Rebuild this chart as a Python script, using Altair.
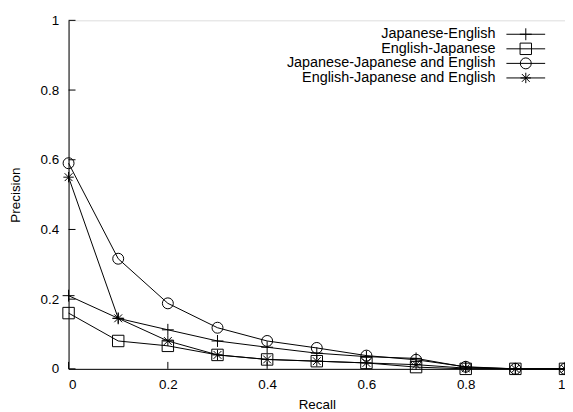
import altair as alt
import pandas as pd

recall = [0.0, 0.1, 0.2, 0.3, 0.4, 0.5, 0.6, 0.7, 0.8, 0.9, 1.0]
series_names = [
    "Japanese-English",
    "English-Japanese",
    "Japanese-Japanese and English",
    "English-Japanese and English",
]
ja_en = [0.21, 0.145, 0.112, 0.08, 0.062, 0.045, 0.035, 0.03, 0.005, 0.0, 0.0]
en_ja = [0.16, 0.08, 0.066, 0.04, 0.027, 0.022, 0.017, 0.005, 0.0, 0.0, 0.0]
jaja_en = [0.59, 0.316, 0.188, 0.118, 0.08, 0.06, 0.038, 0.026, 0.006, 0.0, 0.0]
enja_en = [0.55, 0.145, 0.08, 0.04, 0.027, 0.022, 0.017, 0.012, 0.002, 0.0, 0.0]
tick_values = [0, 0.2, 0.4, 0.6, 0.8, 1]

all_series = [ja_en, en_ja, jaja_en, enja_en]
rows = []
for name, vals in zip(series_names, all_series):
    for r, p in zip(recall, vals):
        rows.append({"series": name, "recall": r, "precision": p})
df = pd.DataFrame(rows)

PLUS = "M-1,0L1,0M0,-1L0,1"
STAR = "M-1,0L1,0M0,-1L0,1M-0.75,-0.75L0.75,0.75M-0.75,0.75L0.75,-0.75"
shapes = [PLUS, "square", "circle", STAR]
sizes = [144, 110, 130, 130]

FONT = "Liberation Sans"
xs = alt.Scale(domain=[0, 1], nice=False)
ys = alt.Scale(domain=[0, 1], nice=False)

x_enc = alt.X("recall:Q", scale=xs, axis=alt.Axis(
    values=tick_values, format="~g", title="Recall", tickSize=0,
    labelPadding=9, titlePadding=6, domainColor="black", grid=False,
    labelFont=FONT, labelFontSize=13.5, labelColor="black",
    titleFont=FONT, titleFontSize=13.5, titleFontWeight="normal", titleColor="black"))
y_enc = alt.Y("precision:Q", scale=ys, axis=alt.Axis(
    values=tick_values, format="~g", title="Precision", tickSize=0,
    labelPadding=10, titlePadding=18, domainColor="black", grid=False,
    labelFont=FONT, labelFontSize=13.5, labelColor="black",
    titleFont=FONT, titleFontSize=13.5, titleFontWeight="normal", titleColor="black"))

shape_scale = alt.Scale(domain=series_names, range=shapes)
size_scale = alt.Scale(domain=series_names, range=sizes)

base = alt.Chart(df)
lines = base.mark_line(color="black", strokeWidth=1).encode(
    x=x_enc, y=y_enc, detail="series:N")
points = base.mark_point(color="black", strokeWidth=1, filled=False, opacity=1).encode(
    x="recall:Q", y="precision:Q",
    shape=alt.Shape("series:N", scale=shape_scale, legend=None),
    size=alt.Size("series:N", scale=size_scale, legend=None))

tick_df = pd.DataFrame({"v": tick_values})
yticks = alt.Chart(tick_df).mark_rule(color="black", strokeWidth=1).encode(
    y="v:Q", x=alt.value(0), x2=alt.value(7))
xticks = alt.Chart(tick_df).mark_rule(color="black", strokeWidth=1).encode(
    x="v:Q", y=alt.value(351), y2=alt.value(344))

# legend
leg_df = pd.DataFrame({"series": series_names, "idx": list(range(4))})
leg_y = alt.Y("idx:Q", scale=alt.Scale(domain=[0, 3], range=[14, 58], nice=False, zero=False), axis=None)
leg_text = alt.Chart(leg_df).mark_text(
    align="right", baseline="middle", font=FONT, fontSize=14.5, color="black").encode(
    text="series:N", x=alt.value(430), y=leg_y)
leg_line = alt.Chart(leg_df).mark_rule(color="black", strokeWidth=1).encode(
    x=alt.value(441), x2=alt.value(480), y=leg_y)
leg_pts = alt.Chart(leg_df).mark_point(color="black", strokeWidth=1, filled=False, opacity=1).encode(
    x=alt.value(460.5), y=leg_y,
    shape=alt.Shape("series:N", scale=shape_scale, legend=None),
    size=alt.Size("series:N", scale=size_scale, legend=None))
legend = alt.layer(leg_line, leg_pts, leg_text)

chart = alt.layer(lines, points, yticks, xticks).resolve_scale(y="shared")
chart = alt.layer(chart, legend).resolve_scale(y="independent").properties(
    width=500, height=351,
    autosize=alt.AutoSizeParams(type="none"),
    padding={"left": 61, "top": 11, "right": 0, "bottom": 40},
).configure_view(stroke=None).configure(background="white")

chart.save("out.html", embed_options={"renderer": "svg", "actions": False})
